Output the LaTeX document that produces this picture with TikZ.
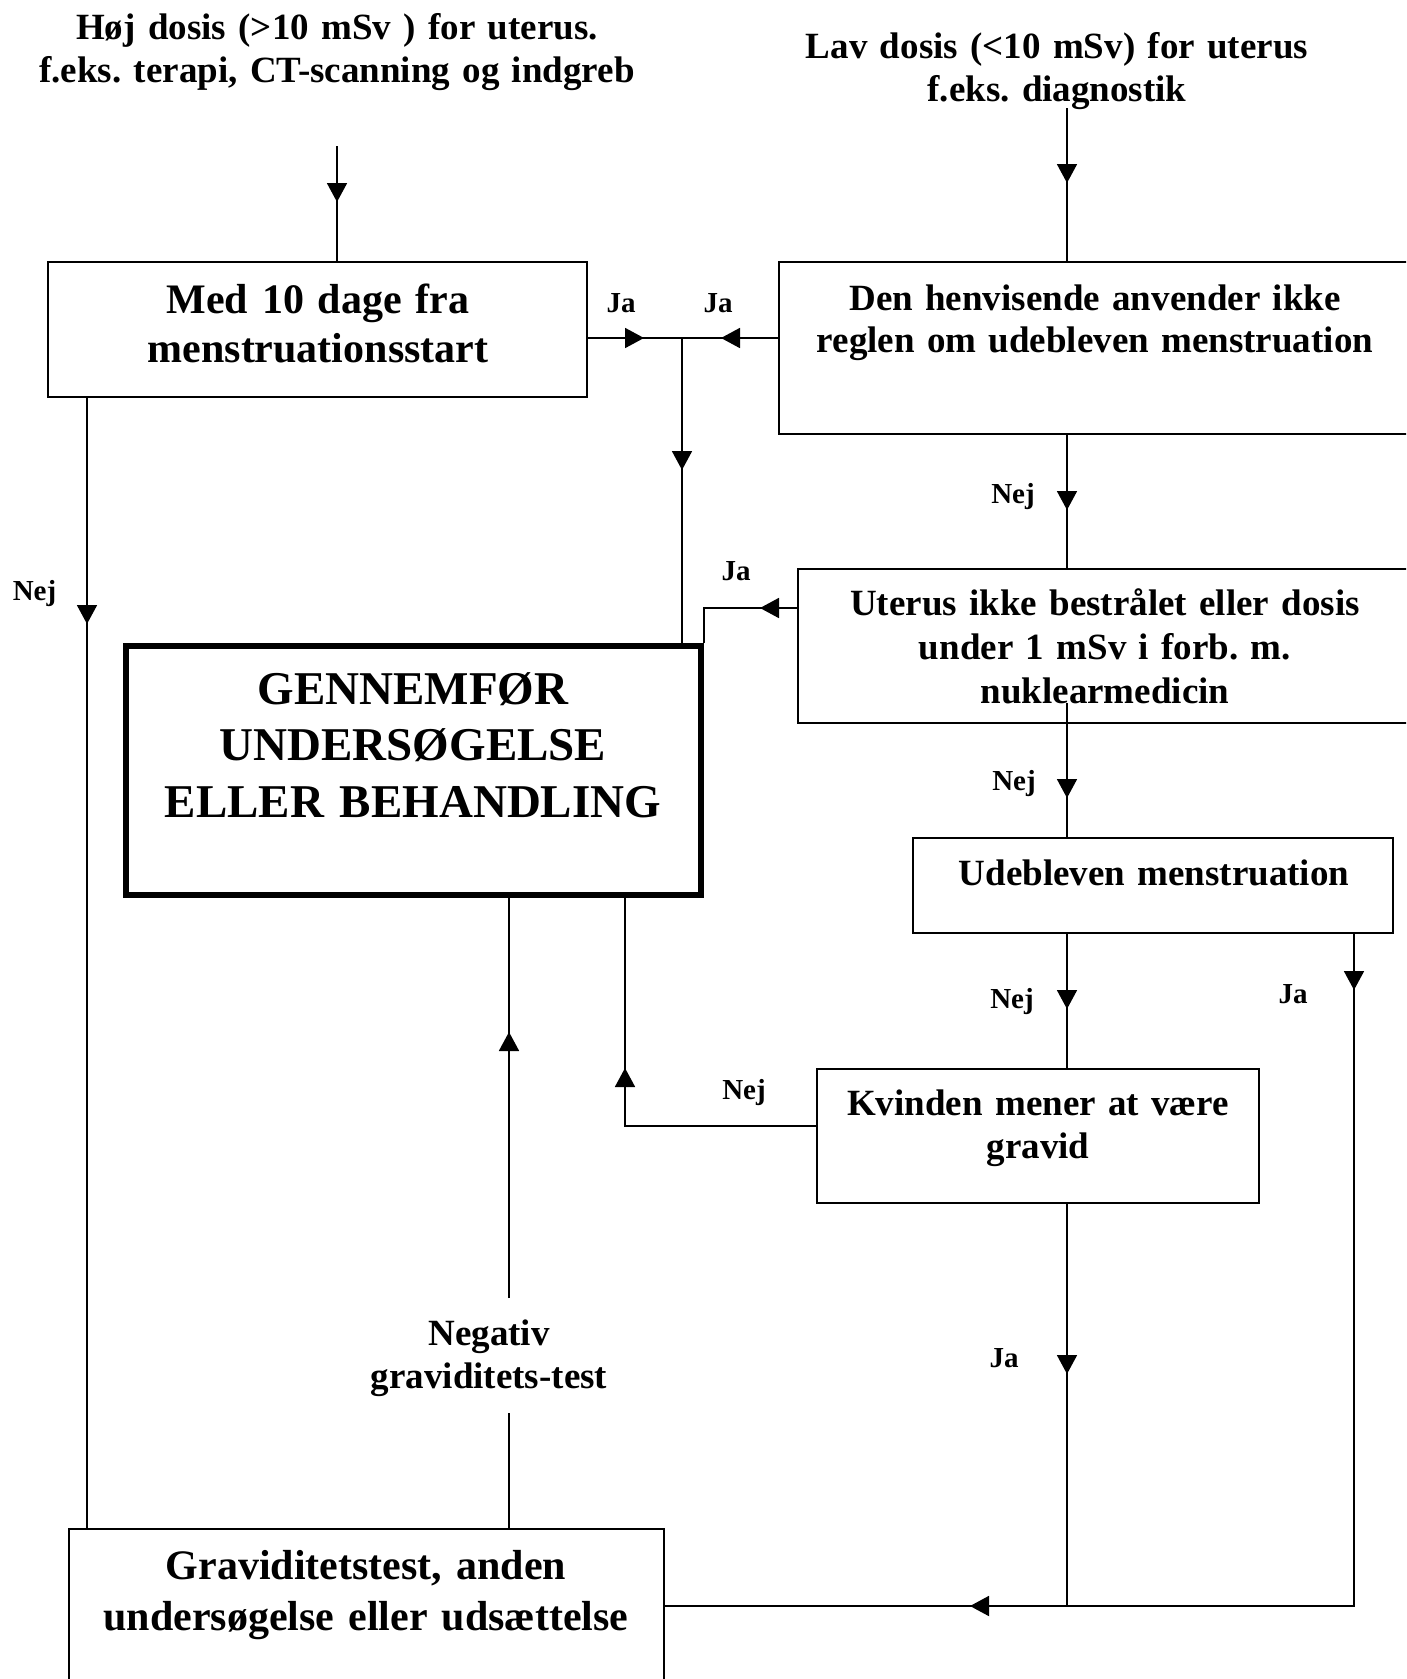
\documentclass[tikz,border=0pt]{standalone}
\usepackage{fontspec}
\setmainfont{Liberation Serif}
\usetikzlibrary{arrows.meta,decorations.markings}
\frenchspacing
\tikzset{
  x=1pt, y=-1pt,
  box/.style={draw, line width=2pt, inner sep=0pt},
  bigbox/.style={draw, line width=5.5pt, inner sep=0pt},
  txt/.style={inner sep=0pt, anchor=base, text width=760pt, align=center,
              font=\bfseries\fontsize{37}{43}\selectfont},
  conn/.style={line width=1.8pt},
  lbl/.style={inner sep=0pt, anchor=base, font=\bfseries\fontsize{29}{34}\selectfont},
  midarrow/.style={postaction={decorate, decoration={markings,
      mark=at position #1 with {\arrow{Triangle[length=19pt,width=20pt]}}}}},
}
\begin{document}
\begin{tikzpicture}
\useasboundingbox (0,0) rectangle (1406,1679);
\clip (0,0) rectangle (1406,1679);
\fill[white] (0,0) rectangle (1406,1679);

% boxes
\node[box, minimum width=539pt, minimum height=135pt] (b1) at (317.5,329.5) {};
\node[box, minimum width=641pt, minimum height=172pt] (b2) at (1099.5,348) {};
\node[bigbox, minimum width=575pt, minimum height=249pt] (bb) at (413.5,770.5) {};
\node[box, minimum width=622pt, minimum height=154pt] (b3) at (1109,646) {};
\node[box, minimum width=480pt, minimum height=95pt] (b4) at (1153,885.5) {};
\node[box, minimum width=442pt, minimum height=134pt] (b5) at (1038,1136) {};
\node[box, minimum width=595pt, minimum height=171pt] (b6) at (366.5,1614.5) {};

% texts
\node[txt] (tl) at (337,39) {Høj dosis (>10 mSv ) for uterus.\\f.eks. terapi, CT-scanning og indgreb};
\node[txt] (tr) at (1057,58) {Lav dosis (<10 mSv) for uterus\\f.eks. diagnostik};
\node[txt, font=\bfseries\fontsize{42}{49}\selectfont] (t1) at (318,313) {Med 10 dage fra\\menstruationsstart};
\node[txt, font=\bfseries\fontsize{37}{42}\selectfont] (t2) at (1095,310) {Den henvisende anvender ikke\\reglen om udebleven menstruation};
\node[txt, font=\bfseries\fontsize{47}{56.5}\selectfont] (tbb) at (413,704) {GENNEMFØR\\UNDERSØGELSE\\ELLER BEHANDLING};
\node[txt, font=\bfseries\fontsize{37}{44}\selectfont] (t3) at (1105,615) {Uterus ikke bestrålet eller dosis\\under 1 mSv i forb. m.\\nuklearmedicin};
\node[txt] (t4) at (1154,885) {Udebleven menstruation};
\node[txt] (t5) at (1038,1115) {Kvinden mener at være\\gravid};
\node[txt, font=\bfseries\fontsize{42}{51}\selectfont] (t6) at (366,1579) {Graviditetstest, anden\\undersøgelse eller udsættelse};
\node[txt] (neg) at (489,1345) {Negativ\\graviditets-test};

% coordinates
\coordinate (c1) at (337,146);
\coordinate (c2) at (1067,108);
\coordinate (j1) at (682,338);
\coordinate (k3) at (760,608);
\coordinate (c8) at (1067,703);
\coordinate (corner) at (1354,1606);
\coordinate (j2) at (1067,1606);
\coordinate (k12) at (625,1126);
\coordinate (k13a) at (509,1413);
\coordinate (k13b) at (509,1298);
\coordinate (k14) at (87,397);

% connectors
\draw[conn, midarrow=56pt] (c1) -- (b1.north -| c1);
\draw[conn, midarrow=75pt] (c2) -- (b2.north -| c2);
\draw[conn, midarrow=56pt] (b1.east |- j1) -- (j1);
\draw[conn, midarrow=57pt] (b2.west |- j1) -- (j1);
\draw[conn, midarrow=132pt] (j1) -- (bb.north -| j1);
\draw[conn, midarrow=75pt] (b2.south -| c2) -- (b3.north -| c2);
\draw[conn, midarrow=37pt] (b3.west |- k3) -| (bb.north east);
\draw[conn, midarrow=95pt] (c8) -- (b4.north -| c8);
\draw[conn, midarrow=75pt] (b4.south -| c8) -- (b5.north -| c8);
\draw[conn, midarrow=56pt, midarrow=1056pt] (b4.south -| corner) -- (corner) -- (b6.east |- corner);
\draw[conn, midarrow=170pt] (b5.south -| j2) -- (j2);
\draw[conn, midarrow=249pt] (b5.west |- k12) -| (bb.south -| k12);
\draw[conn] (b6.north -| k13a) -- (k13a);
\draw[conn, midarrow=266pt] (k13b) -- (bb.south -| k13b);
\draw[conn, midarrow=227pt] (k14) -- (b6.north -| k14);

% labels
\node[lbl] (l1) at (621,312) {Ja};
\node[lbl] (l2) at (718,312) {Ja};
\node[lbl] (l3) at (1013,503) {Nej};
\node[lbl] (l4) at (736,580) {Ja};
\node[lbl] (l5) at (1014,790) {Nej};
\node[lbl] (l6) at (1012,1008) {Nej};
\node[lbl] (l7) at (1293,1003) {Ja};
\node[lbl] (l8) at (1004,1367) {Ja};
\node[lbl] (l9) at (744,1099) {Nej};
\node[lbl] (l10) at (34.5,600) {Nej};
\end{tikzpicture}
\end{document}
